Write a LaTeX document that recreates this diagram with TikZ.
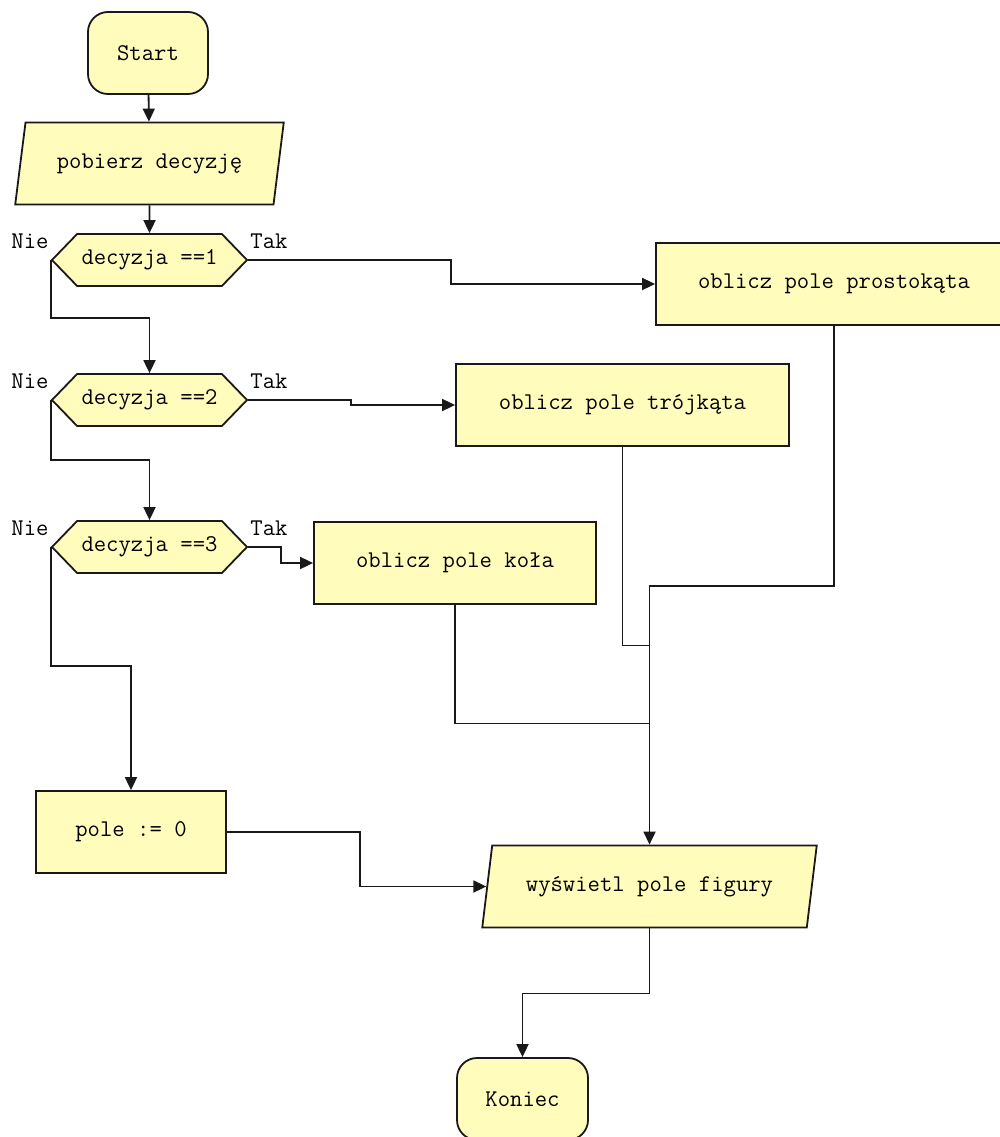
\documentclass[tikz,border=0pt]{standalone}
\usepackage{fontspec}
\usepackage{tikz}
\usetikzlibrary{arrows.meta,positioning,calc,shapes.geometric,shapes.symbols}
\definecolor{fcedge}{RGB}{25,25,25}
\definecolor{fcfill}{RGB}{255,252,188}
\newcommand\fcfont{\fontsize{24}{28}\selectfont\ttfamily}
\tikzset{
  fcbox/.style={
    draw=fcedge, fill=fcfill, line width=1.8pt, align=center,
    inner sep=2pt, font=\fcfont, minimum height=82pt
  },
  term/.style={fcbox, rounded corners=20pt},
  proc/.style={fcbox},
  io/.style={fcbox, trapezium, trapezium left angle=72, trapezium right angle=108,
    trapezium stretches=true},
  cond/.style={fcbox, signal, signal to=west and east, signal pointer angle=92,
    minimum height=52pt},
  arr/.style={-{Triangle[length=13pt,width=12pt]}, draw=fcedge, line width=1.8pt},
  wire/.style={draw=fcedge, line width=1.8pt},
  lbl/.style={font=\fcfont, inner sep=0pt}
}

\begin{document}
\begin{tikzpicture}[x=1pt, y=-1pt]
  \useasboundingbox (0,0) rectangle (1000,1137);
  \node[term, minimum width=120pt] (start) at (148,53) {Start};
  \node[io, minimum width=269pt] (pobierz) at (149.5,163.5) {pobierz decyzję};
  \node[cond, minimum width=195pt] (d1) at (149.5,260) {decyzja ==1};
  \node[cond, minimum width=195pt] (d2) at (149.5,400) {decyzja ==2};
  \node[cond, minimum width=195pt] (d3) at (149.5,547) {decyzja ==3};
  \node[proc, minimum width=356pt] (prost) at (834,284) {oblicz pole prostokąta};
  \node[proc, minimum width=333pt] (troj) at (622.5,405) {oblicz pole trójkąta};
  \node[proc, minimum width=282pt] (kolo) at (455,563) {oblicz pole koła};
  \node[proc, minimum width=190pt] (zero) at (131,832) {pole := 0};
  \node[io, minimum width=335pt] (wypisz) at (649.5,886.5) {wyświetl pole figury};
  \node[term, minimum width=131pt] (koniec) at (522.5,1099) {Koniec};
  \foreach \d in {d1,d2,d3} {
    \node[lbl, anchor=base east] (nie-\d) at ($(\d.west)+(-2,-12)$) {Nie};
    \node[lbl, anchor=base west] (tak-\d) at ($(\d.east)+(2,-12)$) {Tak};
  }
  \draw[arr] (start) -- (pobierz);
  \draw[arr] (pobierz) -- (d1);
  \draw[arr] (d1.east) -- ++(203,0) |- (prost.west);
  \draw[arr] (d1.west) -- ++(0,58) -| (d2.north);
  \draw[arr] (d2.east) -- ++(103,0) |- (troj.west);
  \draw[arr] (d2.west) -- ++(0,60) -| (d3.north);
  \draw[arr] (d3.east) -- ++(33,0) |- (kolo.west);
  \draw[arr] (d3.west) -- ++(0,119) -| (zero.north);
  \draw[arr] (zero.east) -- ++(133,0) |- (wypisz.west);
  \draw[arr] (prost.south) -- ++(0,260) -| (wypisz.north);
  \draw[wire] (troj.south) |- ($(wypisz.north)+(0,-199)$);
  \draw[wire] (kolo.south) |- ($(wypisz.north)+(0,-121)$);
  \draw[arr] (wypisz.south) -- ++(0,65) -| (koniec.north);
\end{tikzpicture}
\end{document}
